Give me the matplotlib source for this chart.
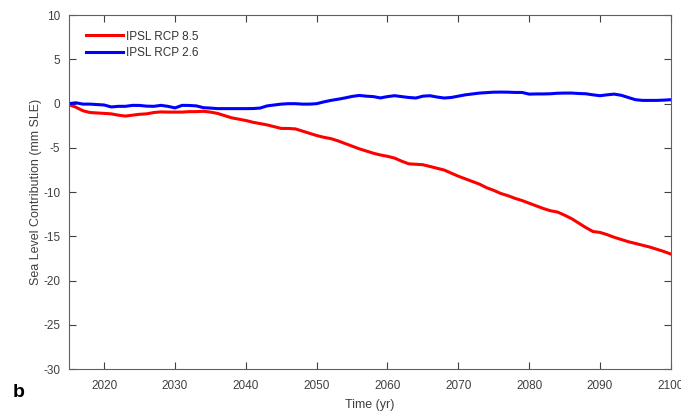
import matplotlib.pyplot as plt

plt.rcParams['font.family'] = ['Liberation Sans', 'DejaVu Sans']
plt.rcParams['axes.unicode_minus'] = False

# yearly sea level contribution (mm SLE), 2015-2100
years = list(range(2015, 2101))

rcp85 = [-0.1, -0.4, -0.8, -1.0, -1.05, -1.1, -1.15, -1.3, -1.4, -1.3,
         -1.2, -1.15, -1.0, -0.93, -0.95, -0.95, -0.95, -0.9, -0.9, -0.86,
         -0.95, -1.1, -1.35, -1.6, -1.75, -1.9, -2.1, -2.25, -2.4, -2.6,
         -2.8, -2.8, -2.85, -3.1, -3.35, -3.6, -3.8, -3.95, -4.2, -4.5,
         -4.8, -5.1, -5.35, -5.6, -5.8, -5.95, -6.15, -6.5, -6.8, -6.85,
         -6.9, -7.1, -7.3, -7.5, -7.85, -8.2, -8.5, -8.8, -9.1, -9.5,
         -9.8, -10.15, -10.4, -10.7, -10.95, -11.25, -11.55, -11.85, -12.1, -12.25,
         -12.6, -13.0, -13.5, -14.0, -14.45, -14.55, -14.8, -15.1, -15.35, -15.6,
         -15.8, -16.0, -16.2, -16.45, -16.7, -17.0]

rcp26 = [0.0, 0.1, -0.05, -0.05, -0.1, -0.15, -0.37, -0.3, -0.3, -0.19,
         -0.2, -0.28, -0.3, -0.19, -0.3, -0.48, -0.19, -0.2, -0.25, -0.45,
         -0.5, -0.56, -0.56, -0.56, -0.56, -0.56, -0.55, -0.5, -0.25, -0.15,
         -0.05, 0.0, 0.0, -0.05, -0.05, 0.0, 0.2, 0.37, 0.5, 0.65,
         0.82, 0.93, 0.85, 0.8, 0.65, 0.8, 0.9, 0.8, 0.7, 0.64,
         0.85, 0.9, 0.75, 0.64, 0.7, 0.85, 1.0, 1.1, 1.2, 1.25,
         1.3, 1.31, 1.3, 1.27, 1.27, 1.08, 1.1, 1.1, 1.12, 1.18,
         1.2, 1.2, 1.15, 1.12, 1.0, 0.9, 1.0, 1.08, 0.95, 0.7,
         0.45, 0.37, 0.37, 0.37, 0.4, 0.45]

xticks = list(range(2020, 2101, 10))
yticks = list(range(-30, 11, 5))

fig = plt.figure(figsize=(6.81, 4.11), dpi=100)
ax = fig.add_axes([0.101, 0.102, 0.884, 0.861])

ax.plot(years, rcp85, color='#ff0000', lw=2.2, label='IPSL RCP 8.5')
ax.plot(years, rcp26, color='#0000ff', lw=2.2, label='IPSL RCP 2.6')

ax.set_xlim(2015, 2100)
ax.set_ylim(-30, 10)
ax.set_xticks(xticks)
ax.set_yticks(yticks)

grey = '#404040'
for s in ax.spines.values():
    s.set_color('#606060')
    s.set_linewidth(0.8)
ax.tick_params(direction='in', top=True, right=True, length=5, width=0.8,
               color='#404040', labelsize=8.5, labelcolor=grey)
ax.tick_params(axis='x', pad=8)
ax.tick_params(axis='y', pad=6)

ax.set_xlabel('Time (yr)', fontsize=9, color=grey, labelpad=5)
ax.set_ylabel('Sea Level Contribution (mm SLE)', fontsize=9, color=grey, labelpad=1)

leg = ax.legend(loc='upper left', frameon=False, fontsize=8.5, handlelength=3.2,
                handletextpad=0.2, labelspacing=0.35, borderaxespad=0.0,
                bbox_to_anchor=(0.02, 0.97))
for t in leg.get_texts():
    t.set_color('#333333')

fig.text(0.018, 0.035, 'b', fontsize=14, fontweight='bold', color='black')

fig.savefig('out.png', dpi=100)
